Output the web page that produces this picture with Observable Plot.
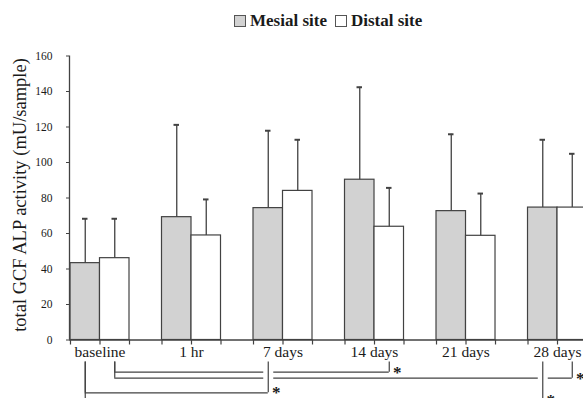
<!DOCTYPE html>
<html>
<head>
<meta charset="utf-8">
<script src="https://cdn.jsdelivr.net/npm/d3@7"></script>
<script src="https://cdn.jsdelivr.net/npm/@observablehq/plot@0.6"></script>
<style>
  html, body { margin: 0; padding: 0; background: #fff; width: 583px; height: 398px; overflow: hidden; }
  #legend { position: relative; height: 36px; display: flex; align-items: flex-start; padding-left: 234px; box-sizing: border-box;
            font: bold 17px "Liberation Serif", "Times New Roman", serif; color: #1a1a1a; }
  #legend .sw { display: inline-block; width: 10px; height: 10px; border: 1px solid #555; margin-top: 15px; margin-right: 4px; }
  #legend .lt { display: inline-block; line-height: 17px; margin-top: 12px; margin-right: 8px; }
  #chart svg { display: block; overflow: hidden; }
</style>
</head>
<body>
<div id="legend"></div>
<div id="chart"></div>
<script>
// ---- data ----
const timepoints = ["baseline", "1 hr", "7 days", "14 days", "21 days", "28 days"];
const sites = ["Mesial site", "Distal site"];
const mesialMean = [43.3, 69.2, 74.3, 90.3, 72.6, 74.6];
const mesialSD   = [25.0, 52.0, 43.6, 52.1, 43.3, 38.2];
const distalMean = [46.1, 58.9, 84.0, 63.8, 58.7, 74.6];
const distalSD   = [22.2, 20.3, 28.8, 21.9, 23.8, 30.3];
const yTicks = [0, 20, 40, 60, 80, 100, 120, 140, 160];
const yLabel = "total GCF ALP activity (mU/sample)";
// significant comparisons (from -> to), drawn as brackets under the axis
const comparisons = [
  {from: ["baseline", "Distal site"], to: ["14 days", "Distal site"], row: 1},
  {from: ["baseline", "Distal site"], to: ["28 days", "Distal site"], row: 2},
  {from: ["baseline", "Mesial site"], to: ["7 days", "Mesial site"], row: 3},
  {from: ["baseline", "Mesial site"], to: ["28 days", "Mesial site"], row: 4}
];
const siteFill = {"Mesial site": "#d2d2d2", "Distal site": "#ffffff"};

// ---- legend ----
const legend = document.getElementById("legend");
sites.forEach(s => {
  const sw = document.createElement("span");
  sw.className = "sw"; sw.style.background = siteFill[s];
  const lt = document.createElement("span");
  lt.className = "lt"; lt.textContent = s;
  legend.append(sw, lt);
});

// ---- layout helpers ----
const barW = 29.5 / 91.5;               // bar width in group units
const pxPerUnit = (362 - 58.5 - 19.5) / 160;
const rowOffset = {1: 32.2, 2: 38.2, 3: 52.8, 4: 61};   // px below the axis
const belowAxis = px => -px / pxPerUnit;

const rows = timepoints.flatMap((t, g) => [
  {t, g, site: sites[0], mean: mesialMean[g], sd: mesialSD[g]},
  {t, g, site: sites[1], mean: distalMean[g], sd: distalSD[g]}
]);
const left = d => d.site === sites[0] ? d.g - barW : d.g;
const right = d => d.site === sites[0] ? d.g : d.g + barW;
const center = d => (left(d) + right(d)) / 2;
const posOf = ([t, s]) => center({g: timepoints.indexOf(t), site: s});

const edges = timepoints.flatMap((t, g) => [g - barW, g, g + barW]);

const brackets = comparisons.map(c => ({
  lx: posOf(c.from), rx: posOf(c.to),
  level: rowOffset[c.row]
}));
const crossing = brackets.filter(b => b.level - 3 > 28);

const ink = "#424242";

const chart = Plot.plot({
  width: 583, height: 362,
  marginLeft: 69, marginRight: 0, marginTop: 19.5, marginBottom: 58.5,
  style: {fontFamily: '"Liberation Serif", "Times New Roman", serif', color: "#1a1a1a", background: "#fff", overflow: "hidden"},
  x: {type: "linear", domain: [-0.3333, 5.284]},
  y: {domain: [0, 160]},
  marks: [
    // bars
    Plot.rectY(rows, {x1: left, x2: right, y1: 0, y2: "mean", fill: d => siteFill[d.site], stroke: ink, strokeWidth: 1.2}),
    // error bars
    Plot.ruleX(rows, {x: center, y1: "mean", y2: d => d.mean + d.sd, stroke: ink, strokeWidth: 1.3}),
    Plot.ruleY(rows, {y: d => d.mean + d.sd, x1: d => center(d) - 0.03, x2: d => center(d) + 0.03, stroke: ink, strokeWidth: 2}),
    // axes lines
    Plot.ruleX([-0.3333], {y1: 0, y2: 160, stroke: ink, strokeWidth: 1.3}),
    Plot.ruleY([0], {stroke: ink, strokeWidth: 1.3}),
    Plot.ruleX(edges, {x: d => d, y1: 0, y2: belowAxis(5), stroke: ink, strokeWidth: 1.2}),
    Plot.axisY({ticks: yTicks, tickSize: 3, tickPadding: 14, fontSize: 11.5, stroke: ink, label: null}),
    Plot.axisX({ticks: timepoints.map((t, i) => i), tickFormat: i => timepoints[i], tickSize: 0, tickPadding: 6, fontSize: 15.5, label: null}),
    Plot.text([yLabel], {frameAnchor: "left", textAnchor: "middle", dx: -49, dy: -3, rotate: -90, fontSize: 18.5, text: d => d, fill: "#1a1a1a"}),
    // significance brackets
    Plot.ruleY(brackets, {y: d => belowAxis(d.level), x1: "lx", x2: "rx", stroke: ink, strokeWidth: 1.2}),
    Plot.ruleX(brackets, {x: "lx", y1: belowAxis(22), y2: d => belowAxis(d.level), stroke: ink, strokeWidth: 1.2}),
    Plot.ruleX(crossing, {x: "rx", y1: belowAxis(28), y2: d => belowAxis(d.level - 3), stroke: "#fff", strokeWidth: 10}),
    Plot.ruleX(brackets, {x: "rx", y1: belowAxis(22), y2: d => belowAxis(d.level), stroke: ink, strokeWidth: 1.2}),
    Plot.text(brackets, {x: "rx", y: d => belowAxis(d.level), dx: 8, dy: 0, text: () => "*", fontSize: 17, fontWeight: "bold", fill: "#1a1a1a"})
  ]
});
document.getElementById("chart").append(chart);
</script>
</body>
</html>
